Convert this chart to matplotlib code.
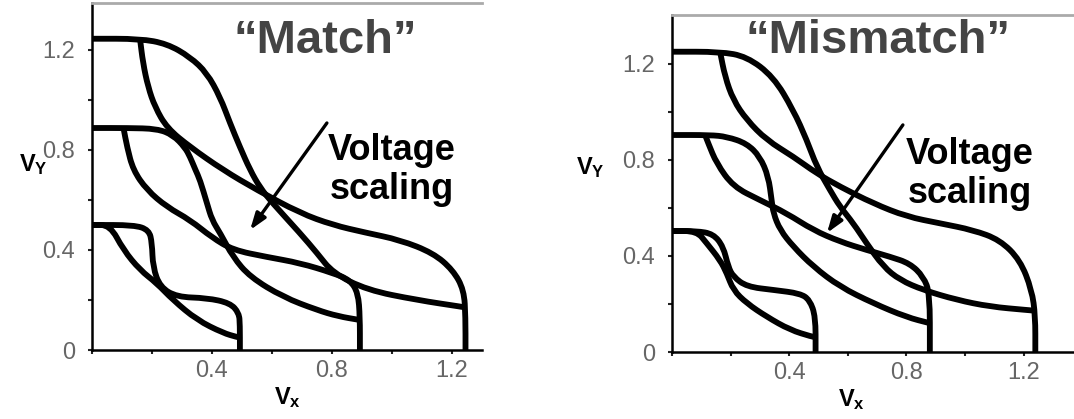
import matplotlib
matplotlib.use("Agg")
import matplotlib.pyplot as plt
from matplotlib.path import Path
from matplotlib.patches import PathPatch

plt.rcParams['font.family'] = ['Liberation Sans', 'DejaVu Sans']
plt.rcParams['mathtext.fontset'] = 'custom'
plt.rcParams['mathtext.rm'] = 'Liberation Sans'
plt.rcParams['mathtext.bf'] = 'Liberation Sans:bold'

# ---------------- data: "Match" panel (left) ----------------
# VDD = 1.25
m125_a_x = [0.0, 0.16, 0.25, 0.327, 0.383, 0.427, 0.46, 0.493, 0.527, 0.56, 0.60, 0.693, 0.75, 0.803, 0.917, 1.083, 1.237, 1.245]
m125_a_y = [1.245, 1.245, 1.225, 1.172, 1.108, 1.012, 0.908, 0.812, 0.72, 0.65, 0.59, 0.468, 0.388, 0.308, 0.24, 0.20, 0.172, 0.17]
m125_b_x = [0.16, 0.17, 0.187, 0.21, 0.25, 0.327, 0.437, 0.55, 0.693, 0.803, 0.91, 1.027, 1.137, 1.203, 1.24, 1.245, 1.245]
m125_b_y = [1.245, 1.148, 1.052, 0.972, 0.888, 0.812, 0.72, 0.64, 0.548, 0.50, 0.47, 0.44, 0.388, 0.32, 0.24, 0.13, 0.0]
# VDD = 0.9
m090_a_x = [0.0, 0.12, 0.217, 0.27, 0.31, 0.327, 0.345, 0.36, 0.383, 0.40, 0.427, 0.47, 0.527, 0.637, 0.75, 0.82, 0.893]
m090_a_y = [0.888, 0.888, 0.885, 0.86, 0.81, 0.772, 0.72, 0.68, 0.588, 0.52, 0.468, 0.372, 0.292, 0.212, 0.16, 0.135, 0.12]
m090_b_x = [0.105, 0.117, 0.137, 0.183, 0.25, 0.327, 0.40, 0.47, 0.583, 0.693, 0.803, 0.86, 0.887, 0.893, 0.893]
m090_b_y = [0.888, 0.812, 0.72, 0.64, 0.572, 0.52, 0.45, 0.40, 0.372, 0.348, 0.308, 0.28, 0.228, 0.132, 0.0]
# VDD = 0.5
m050_a_x = [0.0, 0.06, 0.105, 0.16, 0.215, 0.27, 0.35, 0.437, 0.483, 0.493]
m050_a_y = [0.50, 0.50, 0.40, 0.32, 0.268, 0.20, 0.12, 0.068, 0.052, 0.05]
m050_b_x = [0.0, 0.14, 0.19, 0.2, 0.203, 0.227, 0.283, 0.383, 0.46, 0.49, 0.493, 0.493]
m050_b_y = [0.50, 0.50, 0.48, 0.428, 0.332, 0.252, 0.212, 0.208, 0.188, 0.148, 0.10, 0.0]

# ---------------- data: "Mismatch" panel (right) ----------------
x125_a_x = [0.0, 0.164, 0.255, 0.346, 0.414, 0.46, 0.494, 0.539, 0.573, 0.619, 0.664, 0.721, 0.778, 0.858, 0.972, 1.085, 1.21, 1.24]
x125_a_y = [1.251, 1.251, 1.231, 1.147, 1.008, 0.883, 0.772, 0.675, 0.606, 0.536, 0.453, 0.356, 0.30, 0.258, 0.217, 0.189, 0.175, 0.172]
x125_b_x = [0.164, 0.181, 0.209, 0.255, 0.323, 0.414, 0.494, 0.573, 0.687, 0.801, 0.915, 1.028, 1.119, 1.188, 1.228, 1.24, 1.24]
x125_b_y = [1.251, 1.147, 1.05, 0.967, 0.883, 0.814, 0.744, 0.689, 0.619, 0.564, 0.536, 0.508, 0.467, 0.383, 0.258, 0.15, 0.0]
x090_a_x = [0.0, 0.13, 0.187, 0.255, 0.30, 0.329, 0.34, 0.346, 0.369, 0.414, 0.482, 0.573, 0.687, 0.801, 0.88]
x090_a_y = [0.904, 0.904, 0.897, 0.869, 0.814, 0.731, 0.633, 0.578, 0.508, 0.439, 0.356, 0.272, 0.203, 0.145, 0.12]
x090_b_x = [0.113, 0.124, 0.152, 0.209, 0.30, 0.391, 0.482, 0.573, 0.664, 0.744, 0.812, 0.858, 0.88, 0.88]
x090_b_y = [0.904, 0.869, 0.786, 0.689, 0.633, 0.578, 0.508, 0.46, 0.425, 0.397, 0.369, 0.314, 0.244, 0.0]
x050_a_x = [0.0, 0.084, 0.118, 0.164, 0.187, 0.209, 0.255, 0.323, 0.403, 0.477, 0.49]
x050_a_y = [0.504, 0.504, 0.454, 0.383, 0.328, 0.258, 0.203, 0.147, 0.092, 0.064, 0.062]
x050_b_x = [0.0, 0.084, 0.141, 0.175, 0.192, 0.209, 0.255, 0.35, 0.437, 0.47, 0.49, 0.49]
x050_b_y = [0.504, 0.504, 0.492, 0.439, 0.355, 0.314, 0.272, 0.258, 0.244, 0.217, 0.147, 0.0]

ticks_major = [0.0, 0.2, 0.4, 0.6, 0.8, 1.0, 1.2]
xtick_labels = ['', '', '0.4', '', '0.8', '', '1.2']
ytick_labels = ['0', '', '0.4', '', '0.8', '', '1.2']

panels = [
    dict(title='\u201cMatch\u201d',
         curves=[(m125_a_x, m125_a_y), (m125_b_x, m125_b_y), (m090_a_x, m090_a_y),
                 (m090_b_x, m090_b_y), (m050_a_x, m050_a_y), (m050_b_x, m050_b_y)],
         rect=[92/1074, 1-350/419, (482-92)/1074, (350-3)/419],
         xlim=(0, 1.30), ylim=(0, 1.388),
         title_xy=(0.777, 1.236), text_xy=(1.0, 0.72),
         arrow_tail=(0.783, 0.908), arrow_head=(0.527, 0.48),
         vy=(33/1074, 1-165/419), vx=(288/1074, 1-398/419)),
    dict(title='\u201cMismatch\u201d',
         curves=[(x125_a_x, x125_a_y), (x125_b_x, x125_b_y), (x090_a_x, x090_a_y),
                 (x090_b_x, x090_b_y), (x050_a_x, x050_a_y), (x050_b_x, x050_b_y)],
         rect=[672/1074, 1-352/419, (1074-672)/1074, (352-15)/419],
         xlim=(0, 1.372), ylim=(0, 1.404),
         title_xy=(0.703, 1.296), text_xy=(1.017, 0.74),
         arrow_tail=(0.788, 0.946), arrow_head=(0.529, 0.496),
         vy=(590/1074, 1-168/419), vx=(852/1074, 1-400/419)),
]


def smooth_curve(xs, ys):
    """Quadratic-Bezier path using the read points as control points."""
    pts = list(zip(xs, ys))
    verts = [pts[0], ((pts[0][0] + pts[1][0]) / 2, (pts[0][1] + pts[1][1]) / 2)]
    codes = [Path.MOVETO, Path.LINETO]
    for i in range(1, len(pts) - 1):
        nxt = ((pts[i][0] + pts[i + 1][0]) / 2, (pts[i][1] + pts[i + 1][1]) / 2)
        verts += [pts[i], nxt]
        codes += [Path.CURVE3, Path.CURVE3]
    verts.append(pts[-1])
    codes.append(Path.LINETO)
    return Path(verts, codes)


fig = plt.figure(figsize=(10.74, 4.19), dpi=100)
for p in panels:
    ax = fig.add_axes(p['rect'])
    for cx, cy in p['curves']:
        ax.add_patch(PathPatch(smooth_curve(cx, cy), fill=False, edgecolor='black',
                               lw=4.2, joinstyle='round', capstyle='butt', clip_on=False))
    ax.set_xlim(*p['xlim'])
    ax.set_ylim(*p['ylim'])
    ax.set_xticks(ticks_major)
    ax.set_xticklabels(xtick_labels)
    ax.set_yticks(ticks_major)
    ax.set_yticklabels(ytick_labels)
    ax.tick_params(direction='out', length=3, width=1.5, color='#222222',
                   labelsize=17, labelcolor='#666666')
    ax.tick_params(axis='x', pad=4)
    ax.tick_params(axis='y', pad=9)
    ax.spines['right'].set_visible(False)
    ax.spines['top'].set_color('#aaaaaa')
    ax.spines['top'].set_linewidth(2)
    ax.spines['left'].set_linewidth(1.8)
    ax.spines['bottom'].set_linewidth(1.8)
    ax.text(p['title_xy'][0], p['title_xy'][1], p['title'], ha='center', va='center',
            fontsize=34, fontweight='bold', color='#444444')
    ax.text(p['text_xy'][0], p['text_xy'][1], 'Voltage\nscaling', ha='center', va='center',
            fontsize=26, fontweight='bold', color='black', linespacing=1.15)
    ax.annotate('', xy=p['arrow_head'], xytext=p['arrow_tail'],
                arrowprops=dict(arrowstyle='-|>,head_length=1.0,head_width=0.35',
                                color='black', lw=2.4, shrinkA=0, shrinkB=0))
    fig.text(p['vy'][0], p['vy'][1], r'$\mathbf{V_Y}$', ha='center', va='center', fontsize=17)
    fig.text(p['vx'][0], p['vx'][1], r'$\mathbf{V_x}$', ha='center', va='center', fontsize=17)

fig.savefig('out.png', dpi=100)
